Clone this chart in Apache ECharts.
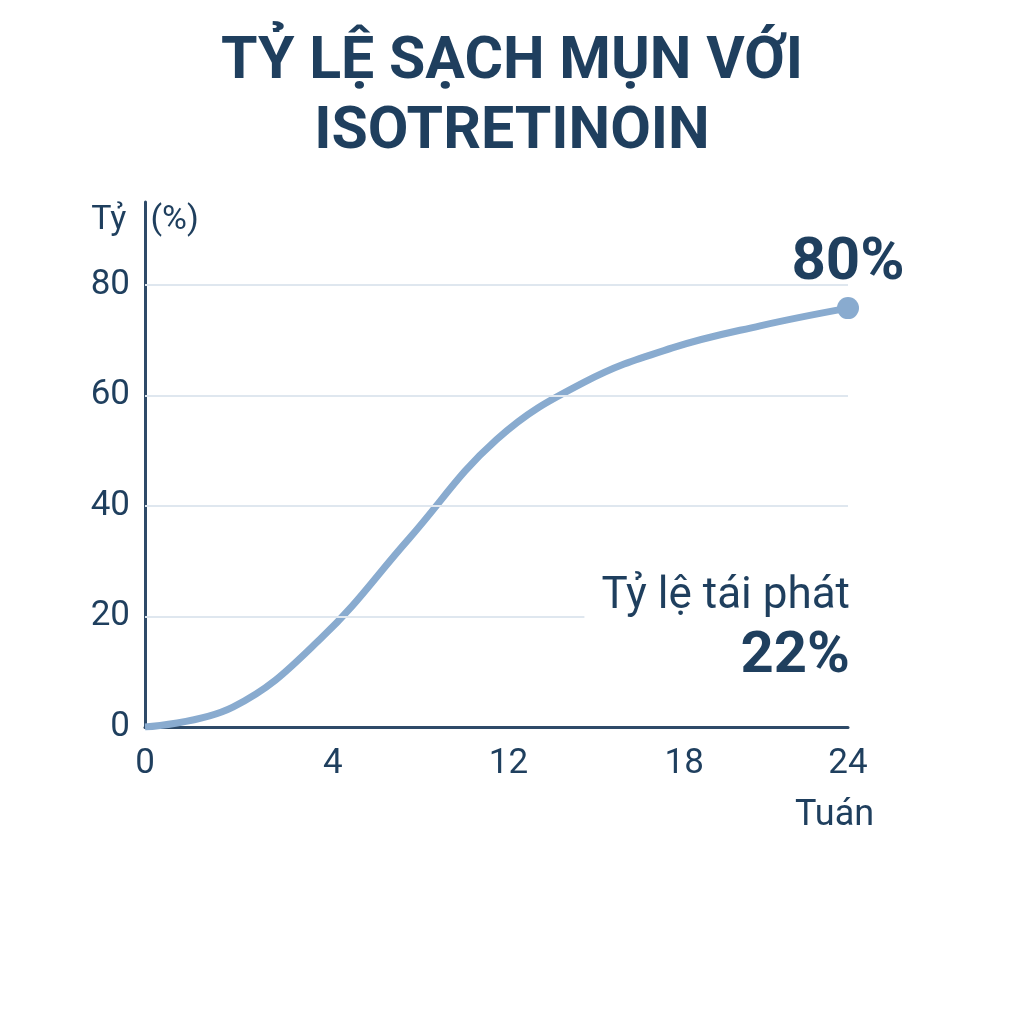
<!DOCTYPE html>
<html>
<head>
<meta charset="utf-8">
<script src="https://cdn.jsdelivr.net/npm/echarts@6/dist/echarts.min.js"></script>
<style>html,body{margin:0;padding:0;background:#fff}#c{width:1024px;height:1024px}</style>
</head>
<body>
<div id="c"></div>
<script>
var titleText = 'TỶ LỆ SẠCH MỤN VỚI\nISOTRETINOIN';
var weeks = ['0', '', '4', '', '12', '', '18', '', '24'];
var clearRate = [0, 3.6, 16.0, 34.0, 52.0, 62.4, 68.6, 72.6, 75.8];
var endLabel = '80%';
var yTicks = [0, 20, 40, 60, 80];
var relapseLabel = 'Tỷ lệ tái phát';
var relapseValue = '22%';
var yName = ['Tỷ', '(%)'];
var xName = 'Tuán';

var C = '#1f3f5e';
var chart = echarts.init(document.getElementById('c'));
chart.setOption({
  backgroundColor: '#ffffff',
  animation: false,
  title: {
    text: titleText,
    left: 'center',
    top: 23,
    textStyle: { fontFamily: 'Roboto', fontWeight: 'bold', fontSize: 59, lineHeight: 70, color: C }
  },
  grid: { left: 145, right: 176, top: 202, bottom: 297 },
  xAxis: {
    type: 'category',
    data: weeks,
    boundaryGap: false,
    axisLine: { lineStyle: { color: '#2e4a68', width: 3 } },
    axisTick: { show: false },
    axisLabel: {
      interval: 0, color: C, fontFamily: 'Roboto', fontSize: 35, margin: 20,
      formatter: function (v, i) {
        if (i === 0 || i === weeks.length - 1) return v;
        return v ? '{s|' + v + '}' : '';
      },
      rich: { s: { fontFamily: 'Roboto', fontSize: 35, color: C, padding: [0, 0, 0, 24] } }
    },
    splitLine: { show: false }
  },
  yAxis: {
    type: 'value',
    min: 0,
    max: 95,
    interval: 20,
    name: '{a|' + yName[0] + '}{g|}{b|' + yName[1] + '}',
    nameLocation: 'end',
    nameGap: -18,
    nameTextStyle: {
      verticalAlign: 'middle',
      rich: {
        a: { fontFamily: 'Roboto', fontSize: 34, color: C },
        g: { width: 24 },
        b: { fontFamily: 'Roboto', fontSize: 34, color: C }
      }
    },
    axisLine: { show: true, lineStyle: { color: '#2e4a68', width: 3 } },
    axisTick: { show: false },
    axisLabel: {
      color: C, fontFamily: 'Roboto', fontSize: 35, margin: 15,
      showMaxLabel: false,
      formatter: function (v) { return yTicks.indexOf(v) >= 0 ? String(v) : ''; }
    },
    splitLine: { show: false }
  },
  series: [{
    type: 'line',
    data: clearRate.map(function (v, i) {
      if (i === clearRate.length - 1) {
        return {
          value: v, symbol: 'circle', symbolSize: 22,
          label: {
            show: true, position: 'top', distance: 3, formatter: endLabel,
            color: C, fontFamily: 'Roboto', fontWeight: 'bold', fontSize: 60
          }
        };
      }
      return { value: v, symbol: 'none' };
    }),
    smooth: 0.4,
    showSymbol: true,
    lineStyle: { color: '#89abcf', width: 7 },
    itemStyle: { color: '#89abcf' },
    z: 3,
    markLine: {
      silent: true,
      symbol: 'none',
      label: { show: false },
      lineStyle: { color: '#dfe7ef', width: 2, type: 'solid' },
      data: yTicks.filter(function (t) { return t > 0; }).map(function (t) { return { yAxis: t }; })
    }
  }],
  graphic: [
    {
      type: 'text', right: 174, top: 568, z: 10,
      style: {
        text: '{a|' + relapseLabel + '}\n{b|' + relapseValue + '}',
        align: 'right',
        backgroundColor: '#ffffff',
        padding: [0, 0, 0, 17],
        rich: {
          a: { fontFamily: 'Roboto', fontSize: 44, fill: C, align: 'right', lineHeight: 58 },
          b: { fontFamily: 'Roboto', fontWeight: 'bold', fontSize: 58, fill: C, align: 'right', lineHeight: 62 }
        }
      }
    },
    {
      type: 'text', left: 795, top: 798,
      style: { text: xName, fontFamily: 'Roboto', fontSize: 36, fill: C }
    }
  ]
});
</script>
</body>
</html>
